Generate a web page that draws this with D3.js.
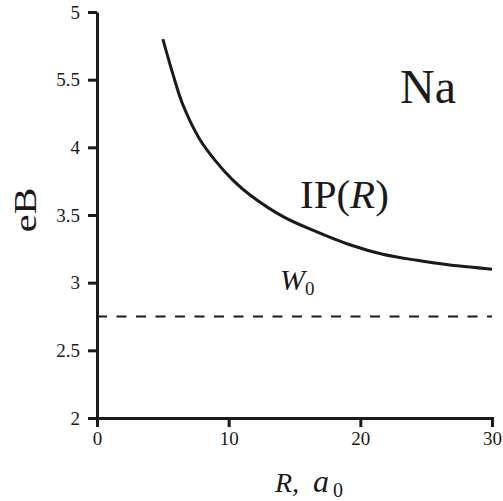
<!DOCTYPE html>
<html lang="en">
<head>
    <meta charset="UTF-8">
    <script src="https://cdnjs.cloudflare.com/ajax/libs/d3/7.8.5/d3.min.js"></script>
    <title>Na IP(R)</title>
    <style>
        body { margin: 0; background: #fff; }
        text { font-family: "Liberation Serif", "DejaVu Serif", serif; fill: #1a1a1a; }
    </style>
</head>
<body>
    <svg width="503" height="501"></svg>
    <script>
        // curve
        var rValues = [5, 5.8, 6.5, 7.8, 9, 10.3, 11.6, 14.1, 16.7, 19.2, 21.7, 24.3, 26.8, 30];
        var ipValues = [4.80, 4.53, 4.32, 4.06, 3.90, 3.76, 3.65, 3.49, 3.375, 3.28, 3.21, 3.165, 3.13, 3.10];
        var w0 = 2.75;

        var xTicks = [0, 10, 20, 30];
        var yTicks = [2, 2.5, 3, 3.5, 4, 4.5, 5];
        var yTickLabels = ["2", "2.5", "3", "3.5", "4", "5.5", "5"];

        var margin = { top: 12, right: 11, bottom: 83, left: 97 };
        var width = 503 - margin.left - margin.right;
        var height = 501 - margin.top - margin.bottom;

        var svg = d3.select("svg");
        var g = svg.append("g").attr("transform", "translate(" + margin.left + "," + margin.top + ")");

        var x = d3.scaleLinear().domain([0, 30]).range([0, width]);
        var y = d3.scaleLinear().domain([2, 5]).range([height, 0]);

        var yAxis = g.append("g")
            .call(d3.axisLeft(y).tickValues(yTicks).tickSize(9).tickSizeOuter(0).tickPadding(8)
                .tickFormat((d, i) => yTickLabels[i]));

        var xAxis = g.append("g")
            .attr("transform", "translate(0," + height + ")")
            .call(d3.axisBottom(x).tickValues(xTicks).tickSize(9).tickSizeOuter(0).tickPadding(5));

        [xAxis, yAxis].forEach(a => {
            a.attr("font-family", "Liberation Serif");
            a.selectAll("path, line").attr("stroke", "#1a1a1a").attr("stroke-width", 3);
            a.selectAll("text").style("font-size", "19px").attr("fill", "#1a1a1a");
        });
        xAxis.selectAll("path").attr("stroke-linecap", "square");

        // W0 dashed line
        g.append("line")
            .attr("x1", x(0)).attr("x2", x(30))
            .attr("y1", y(w0)).attr("y2", y(w0))
            .attr("stroke", "#1a1a1a")
            .attr("stroke-width", 2)
            .attr("stroke-dasharray", "10,9.5");

        var line = d3.line()
            .x(d => x(d[0]))
            .y(d => y(d[1]))
            .curve(d3.curveCatmullRom);

        g.append("path")
            .datum(d3.zip(rValues, ipValues))
            .attr("d", line)
            .attr("fill", "none")
            .attr("stroke", "#1a1a1a")
            .attr("stroke-width", 3);

        // labels
        svg.append("text")
            .attr("x", 400).attr("y", 103)
            .style("font-size", "48px")
            .text("Na");

        var ip = svg.append("text")
            .attr("x", 300).attr("y", 208)
            .style("font-size", "41px");
        ip.append("tspan").text("IP(");
        ip.append("tspan").style("font-style", "italic").text("R");
        ip.append("tspan").text(")");

        var w = svg.append("text")
            .attr("x", 280).attr("y", 290)
            .style("font-size", "30px");
        w.append("tspan").style("font-style", "italic").text("W");
        w.append("tspan").attr("dy", 5).style("font-size", "19px").text("0");

        var xl = svg.append("text")
            .attr("y", 492);
        xl.append("tspan").attr("x", 275).style("font-size", "28px").style("font-style", "italic").text("R,");
        xl.append("tspan").attr("x", 313).style("font-size", "32px").style("font-style", "italic").text("a");
        xl.append("tspan").attr("x", 333).attr("dy", 5).style("font-size", "20px").text("0");

        svg.append("text")
            .attr("transform", "translate(36,210) rotate(-90) scale(1.3,1)")
            .attr("text-anchor", "middle")
            .style("font-size", "31px")
            .text("eB");
    </script>
</body>
</html>
